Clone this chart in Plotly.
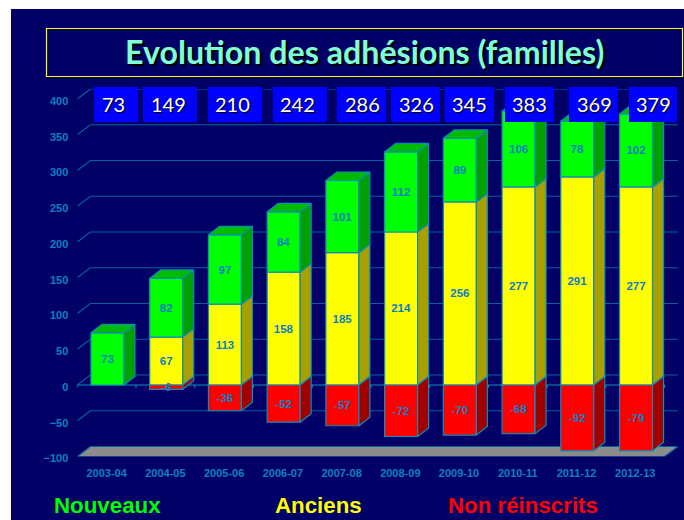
import plotly.graph_objects as go

# ---------- data ----------
SEASONS = ["2003-04", "2004-05", "2005-06", "2006-07", "2007-08",
           "2008-09", "2009-10", "2010-11", "2011-12", "2012-13"]
NOUVEAUX = [73, 82, 97, 84, 101, 112, 89, 106, 78, 102]
ANCIENS = [None, 67, 113, 158, 185, 214, 256, 277, 291, 277]
# the last red bar is drawn much longer than its printed label says
NON_REINSCRITS = [None, -6, -36, -52, -57, -72, -70, -68, -92, -92]
NON_REINSCRITS_LABELS = ["", "-6", "-36", "-52", "-57", "-72", "-70", "-68", "-92", "-79"]
TOTALS = [73, 149, 210, 242, 286, 326, 345, 383, 369, 379]
Y_TICKS = [-100, -50, 0, 50, 100, 150, 200, 250, 300, 350, 400]

# ---------- geometry ----------
W, H = 684, 520
PX_CAT = 58.73          # pixels per category
PX_UNIT = 0.715         # pixels per value unit
X_LEFT_PX = 77.3
Y_ZERO_PX = 385.0
X_MAX = 9.5 + 13.4 / PX_CAT
Y_MAX = 414.0
Y_MIN = -100.0
BAR_W = 33 / PX_CAT
BAR_SHIFT = 0.8 / PX_CAT
BAR_DX, BAR_DY = 11 / PX_CAT, 8.5 / PX_UNIT
GRID_DX, GRID_DY = 13 / PX_CAT, 10 / PX_UNIT
X_RIGHT_PX = X_LEFT_PX + (X_MAX + 0.5) * PX_CAT
Y_TOP_PX = Y_ZERO_PX - Y_MAX * PX_UNIT
Y_BOT_PX = Y_ZERO_PX - Y_MIN * PX_UNIT

BOX_EDGES = [(94, 138), (143, 197), (208, 262), (273, 327), (337, 386),
             (391, 440), (445, 494), (505, 554), (569, 618), (629, 677)]
BOX_TEXT_X = [113.3, 168.7, 232, 297, 362, 416, 469.3, 529, 594, 653]
BOX_TOP, BOX_BOTTOM = 87, 122

NAVY = "#000066"
GRID = "#00629F"
EDGE = "#0E8DB5"
LABEL = "#0B80C4"


def px(x):
    return x / W


def py(y):
    return 1 - y / H


def sides(bottoms, tops):
    xs, ys = [], []
    for i, (b, t) in enumerate(zip(bottoms, tops)):
        if b == t:
            continue
        xr = i + BAR_SHIFT + BAR_W / 2
        xs += [xr, xr + BAR_DX, xr + BAR_DX, xr, xr, None]
        ys += [b, b + BAR_DY, t + BAR_DY, t, b, None]
    return xs, ys


yellow_tops = [a or 0 for a in ANCIENS]
green_tops = [a + n for a, n in zip(yellow_tops, NOUVEAUX)]
red_bottoms = [r or 0 for r in NON_REINSCRITS]
zeros = [0] * len(SEASONS)

top_x, top_y = [], []
for i, t in enumerate(green_tops):
    xl = i + BAR_SHIFT - BAR_W / 2
    xr = xl + BAR_W
    top_x += [xl, xl + BAR_DX, xr + BAR_DX, xr, xl, None]
    top_y += [t, t + BAR_DY, t + BAR_DY, t, t, None]

fig = go.Figure()


def label(v):
    return "" if v is None else str(v)


for name, vals, texts, col in [
        ("Anciens", ANCIENS, [label(v) for v in ANCIENS], "#FFFF00"),
        ("Nouveaux", NOUVEAUX, [label(v) for v in NOUVEAUX], "#00FF00"),
        ("Non réinscrits", NON_REINSCRITS, NON_REINSCRITS_LABELS, "#FF0000")]:
    fig.add_bar(
        x=list(range(len(SEASONS))), y=vals, name=name,
        width=BAR_W, offset=BAR_SHIFT - BAR_W / 2,
        marker=dict(color=col, line=dict(color=EDGE, width=1.2)),
        text=texts, textposition="inside",
        insidetextanchor="middle", textangle=0, constraintext="none",
        insidetextfont=dict(family="Liberation Sans", size=11.5, color=LABEL,
                            weight="bold"),
        hoverinfo="skip", showlegend=False, cliponaxis=False,
    )

for (xs, ys), col in [(sides(zeros, yellow_tops), "#A6A000"),
                      (sides(yellow_tops, green_tops), "#00A000"),
                      (sides(red_bottoms, zeros), "#A00000"),
                      ((top_x, top_y), "#00BB00")]:
    fig.add_scatter(x=xs, y=ys, mode="lines", fill="toself", fillcolor=col,
                    line=dict(color=EDGE, width=1.2), hoverinfo="skip",
                    showlegend=False, cliponaxis=False)

shapes = [dict(type="rect", xref="paper", yref="paper", x0=px(11), x1=1,
               y0=0, y1=py(9), fillcolor=NAVY, line_width=0, layer="below")]

x0, x_end = -0.5, 9.5
# floor
shapes.append(dict(type="path", layer="below",
                   path=f"M {x0} {Y_MIN} L {x0 + GRID_DX} {Y_MIN + GRID_DY} "
                        f"L {X_MAX} {Y_MIN + GRID_DY} L {x_end} {Y_MIN} Z",
                   fillcolor="#8C8C8C", line=dict(color=GRID, width=1.2)))
# gridlines
for t in Y_TICKS[1:]:
    shapes.append(dict(type="path", layer="below",
                       path=f"M {x0} {t} L {x0 + GRID_DX} {t + GRID_DY} L {X_MAX} {t + GRID_DY}",
                       line=dict(color=GRID, width=1.2)))
# zero axis with tick marks
shapes.append(dict(type="line", layer="below", x0=x0, x1=x_end, y0=0, y1=0,
                   line=dict(color=EDGE, width=1.2)))
for i in range(len(SEASONS) + 1):
    shapes.append(dict(type="line", layer="below", x0=x0 + i, x1=x0 + i,
                       y0=0, y1=-4, line=dict(color=EDGE, width=1.2)))
# title frame
shapes.append(dict(type="rect", xref="paper", yref="paper",
                   x0=px(46.5), x1=px(682.5), y0=py(76.5), y1=py(28.5),
                   line=dict(color="#FFFF00", width=1.2)))
# blue total boxes
for a, b in BOX_EDGES:
    shapes.append(dict(type="rect", xref="paper", yref="paper",
                       x0=px(a), x1=px(b), y0=py(BOX_BOTTOM), y1=py(BOX_TOP),
                       fillcolor="#0000FF", line_width=0))

annotations = [dict(
    text="<b>Evolution des adhésions (familles)</b>", xref="paper", yref="paper",
    x=px(364.5), y=py(51.5), showarrow=False, xanchor="center", yanchor="middle",
    font=dict(family="Lato", size=32.2, color="#7FFFD4", shadow="2px 2px 1px #000000"),
)]
for total, xc in zip(TOTALS, BOX_TEXT_X):
    annotations.append(dict(
        text=str(total), xref="paper", yref="paper",
        x=px(xc), y=py((BOX_TOP + BOX_BOTTOM) / 2),
        showarrow=False, xanchor="center", yanchor="middle",
        font=dict(family="Lato", size=20, color="#FFFFFF", shadow="1px 1px 1px #000000"),
    ))
for text, col, left in [("Nouveaux", "#00FF00", 51.5),
                        ("Anciens", "#FFFF00", 273),
                        ("Non réinscrits", "#FF0000", 445.5)]:
    annotations.append(dict(
        text=f"<b>{text}</b>", xref="paper", yref="paper",
        x=px(left), y=py(505.5), showarrow=False, xanchor="left", yanchor="middle",
        font=dict(family="Liberation Sans", size=22.3, color=col),
    ))

tick_font = dict(family="Liberation Sans", size=11, color=LABEL, weight="bold")
fig.update_layout(
    width=W, height=H, autosize=False,
    margin=dict(l=0, r=0, t=0, b=0, pad=0),
    paper_bgcolor="#FFFFFF", plot_bgcolor="rgba(0,0,0,0)",
    barmode="relative", bargap=0.44,
    shapes=shapes, annotations=annotations, showlegend=False,
    xaxis=dict(domain=[px(X_LEFT_PX), px(X_RIGHT_PX)], range=[-0.5, X_MAX],
               tickmode="array", tickvals=list(range(len(SEASONS))),
               ticktext=SEASONS, showgrid=False, zeroline=False, showline=False,
               ticks="", ticklabelstandoff=8, tickfont=tick_font, automargin=False),
    yaxis=dict(domain=[py(Y_BOT_PX), py(Y_TOP_PX)], range=[Y_MIN, Y_MAX],
               tickmode="array", tickvals=Y_TICKS, showgrid=False, zeroline=False,
               showline=False, ticks="", ticklabelstandoff=8, ticklabelshift=2,
               tickfont=tick_font, automargin=False),
)

fig.write_html("out.html", config=dict(displayModeBar=False),
               post_script="document.body.style.margin='0';")
